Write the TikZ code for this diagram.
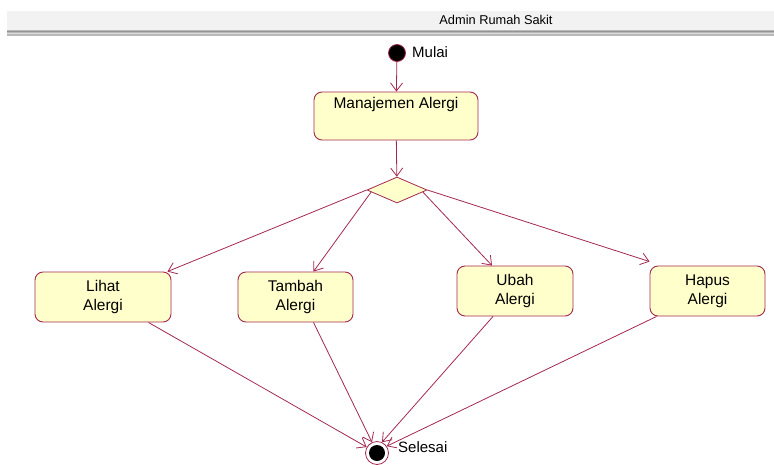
\documentclass[tikz,border=0pt]{standalone}
\usepackage{fontspec}
\setmainfont{Liberation Sans}
\usetikzlibrary{shapes.geometric,arrows.meta,calc}
\definecolor{edge}{HTML}{A3284F}
\definecolor{boxfill}{HTML}{FFFFCC}
\tikzset{
  actbox/.style={draw=edge, fill=boxfill, rounded corners=8pt, line width=0.9pt, inner sep=0pt, align=center, font=\fontsize{15.5}{19}\selectfont},
  flow/.style={draw=edge, line width=0.8pt, -{Straight Barb[length=8pt,width=12pt,line width=0.8pt]}},
  lbl/.style={font=\fontsize{15}{17}\selectfont, inner sep=0pt, anchor=west}
}
\begin{document}
\begin{tikzpicture}[x=1pt,y=-1pt]
\useasboundingbox (0,0) rectangle (774,464);
% header
\fill[gray!10] (7,11) rectangle (774,30);
\fill[gray!55] (7,30) rectangle (774,35.5);
\draw[gray!85, line width=1pt] (7,31) -- (774,31);
\draw[gray!30, line width=0.6pt] (7,33.5) -- (774,33.5);
\node[font=\fontsize{12.8}{14}\selectfont, inner sep=0pt] (hdr) at (496,20) {Admin Rumah Sakit};
% start
\node[circle, draw=edge, fill=black, minimum size=17pt, inner sep=0pt, line width=0.8pt] (start) at (397,53) {};
\node[lbl] (mulai) at (412,52) {Mulai};
% main box
\node[actbox, minimum width=164pt, minimum height=48pt] (man) at (396,116) {};
\node[font=\fontsize{15.5}{17}\selectfont, inner sep=0pt] (mantxt) at (396,104) {Manajemen Alergi};
% decision
\node[diamond, draw=edge, fill=boxfill, line width=0.8pt, minimum width=60pt, minimum height=26pt, aspect=2.3, inner sep=0pt] (dec) at (397,190) {};
% activities
\node[actbox, minimum width=136pt, minimum height=50pt] (lihat) at (103,297) {Lihat\\Alergi};
\node[actbox, minimum width=115pt, minimum height=50pt] (tambah) at (295.5,297) {Tambah\\Alergi};
\node[actbox, minimum width=116pt, minimum height=50pt] (ubah) at (515,291) {Ubah\\Alergi};
\node[actbox, minimum width=115pt, minimum height=50pt] (hapus) at (707.5,291) {Hapus\\Alergi};
% end
\node[circle, draw=edge, fill=white, minimum size=23pt, inner sep=0pt, line width=0.8pt] (end) at (377,453) {};
\node[circle, fill=black, minimum size=16pt, inner sep=0pt] (endin) at (end) {};
\node[lbl] (selesai) at (398,447) {Selesai};
% flows
\draw[flow] (start) -- (man);
\draw[flow] (man) -- (dec);
\draw[flow] (dec.west) -- ([xshift=-4pt]lihat.north east);
\draw[flow] ($(dec.west)!0.15!(dec.south)$) -- ([xshift=18pt]tambah.north);
\draw[flow] ($(dec.east)!0.15!(dec.south)$) -- ([xshift=-23pt]ubah.north);
\draw[flow] (dec.east) -- ([yshift=4pt]hapus.north west);
\draw[flow] ([xshift=-23pt]lihat.south east) -- (end.150);
\draw[flow] ([xshift=18pt]tambah.south) -- (end.115);
\draw[flow] ([xshift=-22pt]ubah.south) -- (end.65);
\draw[flow] ([xshift=7pt]hapus.south west) -- (end.35);
\end{tikzpicture}
\end{document}
